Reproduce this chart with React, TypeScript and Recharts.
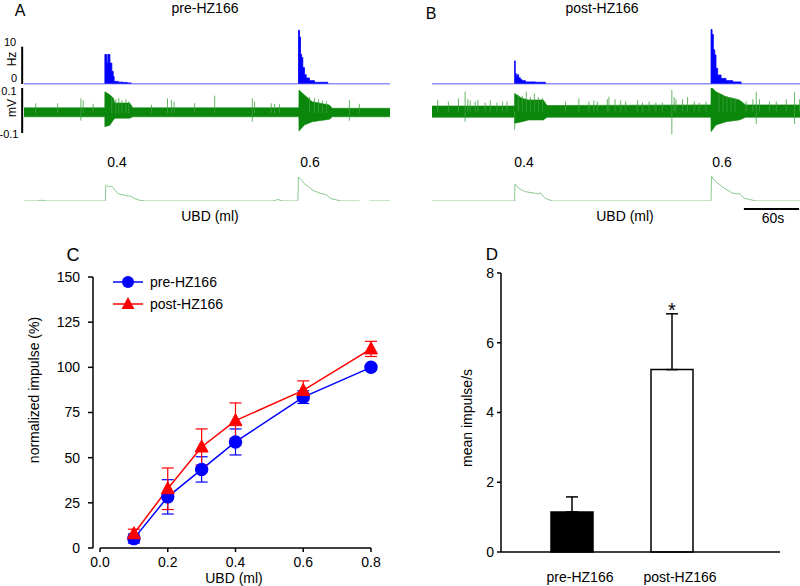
import {
  Area,
  AreaChart,
  Bar,
  BarChart,
  Cell,
  ErrorBar,
  Legend,
  Line,
  LineChart,
  ReferenceDot,
  ReferenceLine,
  XAxis,
  YAxis,
} from "recharts";

const FONT = "'Liberation Sans', Arial, Helvetica, sans-serif";
const BLUE = "#0000ff";
const RED = "#ff0000";
const GREEN = "#0b870b";
const SPIKE = "#3f9f3f";
const PRESS = "#8dc98d";

// ---- panels A / B: 400 s recordings (time in s) ----
// firing-rate histogram (Hz)
const HIST_A_T = [0, 88.4, 90.6, 91.7, 93.9, 96, 97.5, 98.5, 103, 108, 113, 117, 300, 301.1, 302.2, 303.3, 304.7, 306.5, 308.4, 312, 317.5, 332, 400];
const HIST_A_HZ = [0, 7.9, 5.6, 7.9, 5.6, 3.4, 2.0, 0.7, 0.5, 0.4, 0.3, 0, 14.4, 12.6, 8.0, 7.1, 4.4, 2.5, 1.6, 0.9, 0.45, 0, 0];
const HIST_B_T = [0, 89.8, 90.5, 91.6, 92.7, 94.2, 96, 97.8, 101.5, 112.4, 123.3, 303.3, 304.4, 305.8, 307.3, 308.7, 310.5, 314.2, 319.6, 326.9, 336, 400];
const HIST_B_HZ = [0, 6.2, 2.8, 2.1, 2.5, 1.7, 1.2, 0.9, 0.55, 0.45, 0, 14.6, 13.3, 9.2, 7.8, 4.2, 2.4, 1.5, 0.9, 0.55, 0, 0];

// raw nerve signal envelope (mV)
const ENV_A_T = [0, 88.3, 88.4, 93.8, 97.5, 99.3, 115.6, 118.9, 300.4, 300.5, 306.5, 315, 333.8, 337, 400];
const ENV_A_LO = [-0.028, -0.028, -0.072, -0.065, -0.043, -0.034, -0.034, -0.028, -0.028, -0.091, -0.064, -0.05, -0.039, -0.028, -0.028];
const ENV_A_HI = [0.012, 0.012, 0.083, 0.07, 0.056, 0.033, 0.033, 0.012, 0.012, 0.091, 0.069, 0.039, 0.024, 0.01, 0.01];
const ENV_B_T = [0, 89.7, 89.8, 97.8, 105, 121, 125, 303.2, 303.3, 308.7, 319.6, 334, 341, 400];
const ENV_B_LO = [-0.03, -0.03, -0.057, -0.05, -0.042, -0.042, -0.03, -0.03, -0.094, -0.064, -0.05, -0.042, -0.03, -0.03];
const ENV_B_HI = [0.02, 0.02, 0.076, 0.054, 0.047, 0.047, 0.022, 0.025, 0.106, 0.083, 0.061, 0.047, 0.025, 0.025];
const MID_A = -0.012;
const MID_B = -0.005;

// single spikes sticking out of the band (time, tip in mV)
const SPK_A_T = [12.8, 36.8, 62.2, 64.7, 75.6, 96, 100.4, 103.6, 106.9, 111.3, 114.5, 139.3, 156.8, 161.1, 164, 186.5, 208.4, 249.5, 252, 270.2, 273.8, 279.3, 312, 317.5, 321.8, 326.2, 330.5, 355.6, 366.5];
const SPK_A_MV = [0.032, 0.032, 0.054, 0.045, 0.03, 0.06, 0.05, 0.055, 0.045, 0.05, 0.04, 0.025, 0.054, 0.047, 0.04, 0.032, 0.066, 0.054, 0.04, 0.032, 0.03, 0.028, 0.06, 0.055, 0.05, 0.045, 0.04, 0.047, 0.03];
const DIP_A_T = [62.2, 249.5, 355.6];
const DIP_A_MV = [-0.045, -0.05, -0.045];
const SPK_B_T = [6.2, 17.8, 28.7, 36, 38.9, 41.5, 46.9, 49.9, 57.8, 63.3, 70.6, 76.7, 81.5, 93.8, 98.2, 102.5, 106.9, 111.3, 115.6, 120, 145.1, 159.6, 170.5, 176, 179.7, 190.6, 192.3, 198.9, 205.1, 210.5, 223.3, 228.8, 236, 243.3, 250.6, 260.7, 263.2, 265.1, 272.4, 277.8, 285.1, 290.5, 297.8, 312, 316.4, 320.7, 325.1, 329.5, 341.5, 348.8, 352.4, 356, 366.9, 374.2, 385.1, 394.1, 399.6];
const SPK_B_MV = [0.047, 0.04, 0.054, 0.084, 0.05, 0.045, 0.04, 0.047, 0.035, 0.045, 0.035, 0.04, 0.04, 0.07, 0.065, 0.084, 0.06, 0.075, 0.06, 0.055, 0.04, 0.054, 0.04, 0.045, 0.04, 0.05, 0.061, 0.05, 0.045, 0.04, 0.045, 0.035, 0.04, 0.035, 0.035, 0.091, 0.06, 0.05, 0.05, 0.06, 0.04, 0.035, 0.04, 0.075, 0.07, 0.065, 0.06, 0.055, 0.04, 0.05, 0.083, 0.05, 0.04, 0.04, 0.05, 0.083, 0.05];
const DIP_B_T = [36, 89.8, 260.7, 352.4, 394.1];
const DIP_B_MV = [-0.05, -0.085, -0.105, -0.06, -0.06];

// bladder pressure trace (arbitrary units), null = gap in recording
const PRESS_A_T = [0, 15, 19, 24, 89.1, 89.3, 90.2, 92.7, 95.6, 102.9, 110.2, 113.8, 115.6, 121.1, 126.5, 132, 272, 277.5, 283, 299.3, 300, 302.9, 306.5, 315.6, 324.7, 329.1, 330.9, 335.6, 346.5, 366.5, 367, 377, 377.5, 400];
const PRESS_A_V = [0, 0, 0.8, 0, 0, 15.7, 15.7, 14, 15, 7.3, 5.7, 4.7, 5.3, 2.3, 0.7, 0, 0, 1.5, 0, 0, 24, 21.3, 17.3, 10.7, 7.3, 6.7, 5.7, 2.3, 0, 0, null, null, 0, 0];
const PRESS_B_T = [0, 89.8, 90.2, 91.3, 94.2, 101.5, 112.4, 116, 117.8, 119.6, 123.3, 130.6, 303.3, 303.8, 305.8, 308.7, 317.8, 326.9, 332.4, 334.2, 336, 339.6, 352.4, 400];
const PRESS_B_V = [0, 0, 17, 16, 12.7, 9.3, 7.7, 7, 8.3, 6, 2.7, 0, 0, 25, 21.7, 19.3, 12.7, 7.7, 7, 7.7, 5.7, 2.7, 0, 0];

// ---- panel C ----
const UBD = [0.1, 0.2, 0.3, 0.4, 0.6, 0.8];
const PRE = [5.2, 28.3, 43.5, 58.7, 83.5, 100];
const PRE_ERR = [2.5, 9.5, 7, 7.2, 3.5, 0];
const POST = [7.9, 32.8, 55.9, 70.5, 87.2, 110.2];
const POST_ERR = [2.5, 11.5, 10, 9.8, 5.3, 4.2];

// ---- panel D ----
const GROUPS = ["pre-HZ166", "post-HZ166"];
const MEAN = [1.15, 5.23];
const SEM = [0.43, 1.6];
const BAR_FILL = ["#000000", "#ffffff"];

const zip2 = (t: number[], v: (number | null)[], key: string) => t.map((x, i) => ({ t: x, [key]: v[i] }));
const envRows = (t: number[], lo: number[], hi: number[]) => t.map((x, i) => ({ t: x, r: [lo[i], hi[i]] }));
const spikeRows = (t: number[], mv: number[]) => t.map((x, i) => ({ t: x, tip: mv[i] }));

type TraceProps = {
  left: number;
  padL: number;
  padR: number;
  hist: any[];
  env: any[];
  spikes: { t: number; tip: number }[];
  mid: number;
  press: any[];
  axes?: boolean;
  scaleBar?: boolean;
};

function Trace({ left, padL, padR, hist, env, spikes, mid, press, axes, scaleBar }: TraceProps) {
  const xAxis = <XAxis dataKey="t" type="number" domain={[0, 400]} hide />;
  return (
    <>
      <div style={{ position: "absolute", left, top: 0 }}>
        <AreaChart width={400} height={90} data={hist} margin={{ top: 28, bottom: 6, left: padL, right: padR }}>
          {xAxis}
          <YAxis domain={[0, 15]} hide allowDataOverflow />
          <ReferenceLine y={0} stroke="#7a7aff" strokeWidth={0.8} />
          <Area type="stepAfter" dataKey="hz" stroke={BLUE} strokeWidth={0.8} fill={BLUE} fillOpacity={1} isAnimationActive={false} />
          {axes && (
            <ReferenceLine segment={[{ x: -2, y: 0 }, { x: -2, y: 10 }]} stroke="#000" strokeWidth={2} ifOverflow="visible" />
          )}
        </AreaChart>
      </div>
      <div style={{ position: "absolute", left, top: 0 }}>
        <AreaChart width={400} height={140} data={env} margin={{ top: 88, bottom: 7, left: padL, right: padR }}>
          {xAxis}
          <YAxis domain={[-0.1, 0.1]} hide allowDataOverflow />
          {spikes.map((s, i) => (
            <ReferenceLine key={i} segment={[{ x: s.t, y: mid }, { x: s.t, y: s.tip }]} stroke={SPIKE} strokeWidth={0.8} ifOverflow="visible" />
          ))}
          <Area type="linear" dataKey="r" stroke={GREEN} strokeWidth={0.6} fill={GREEN} fillOpacity={1} isAnimationActive={false} />
          {axes && (
            <ReferenceLine segment={[{ x: -2, y: -0.1 }, { x: -2, y: 0.1 }]} stroke="#000" strokeWidth={2} ifOverflow="visible" />
          )}
        </AreaChart>
      </div>
      <div style={{ position: "absolute", left, top: 160 }}>
        <LineChart width={400} height={60} data={press} margin={{ top: 11, bottom: 19, left: padL, right: padR }}>
          {xAxis}
          <YAxis domain={[0, 30]} hide allowDataOverflow />
          <Line type="linear" dataKey="v" stroke={PRESS} strokeWidth={1} dot={false} isAnimationActive={false} />
          {scaleBar && (
            <ReferenceLine segment={[{ x: 339, y: -8 }, { x: 399, y: -8 }]} stroke="#000" strokeWidth={2} ifOverflow="visible" />
          )}
        </LineChart>
      </div>
    </>
  );
}

function Txt({ x, y, size = 14, rot, children }: { x: number; y: number; size?: number; rot?: boolean; children: any }) {
  return (
    <div
      style={{
        position: "absolute",
        left: x,
        top: y,
        fontSize: size,
        lineHeight: 1,
        whiteSpace: "nowrap",
        color: "#000",
        transform: `translate(-50%, -50%)${rot ? " rotate(-90deg)" : ""}`,
      }}
    >
      {children}
    </div>
  );
}

const Tri = (p: any) => {
  const { cx, cy } = p;
  if (cx == null || cy == null) return <g />;
  return <polygon points={`${cx},${cy - 7} ${cx - 6.5},${cy + 5} ${cx + 6.5},${cy + 5}`} fill={RED} stroke={RED} />;
};

const LegendC = () => (
  <svg width={170} height={44} style={{ fontFamily: FONT }}>
    <line x1={3} y1={9} x2={33} y2={9} stroke={BLUE} strokeWidth={1.5} />
    <circle cx={18} cy={9} r={6} fill={BLUE} />
    <text x={40} y={14} fontSize={14} fill="#000">pre-HZ166</text>
    <line x1={3} y1={31} x2={33} y2={31} stroke={RED} strokeWidth={1.5} />
    <polygon points="18,24 11.5,36 24.5,36" fill={RED} />
    <text x={40} y={36} fontSize={14} fill="#000">post-HZ166</text>
  </svg>
);

export default function App() {
  const histA = zip2(HIST_A_T, HIST_A_HZ, "hz");
  const histB = zip2(HIST_B_T, HIST_B_HZ, "hz");
  const envA = envRows(ENV_A_T, ENV_A_LO, ENV_A_HI);
  const envB = envRows(ENV_B_T, ENV_B_LO, ENV_B_HI);
  const spkA = [...spikeRows(SPK_A_T, SPK_A_MV), ...spikeRows(DIP_A_T, DIP_A_MV)];
  const spkB = [...spikeRows(SPK_B_T, SPK_B_MV), ...spikeRows(DIP_B_T, DIP_B_MV)];
  const pressA = zip2(PRESS_A_T, PRESS_A_V, "v");
  const pressB = zip2(PRESS_B_T, PRESS_B_V, "v");

  const rowsC = UBD.map((u, i) => ({ ubd: u, pre: PRE[i], preErr: PRE_ERR[i], post: POST[i], postErr: POST_ERR[i] }));
  const rowsD = GROUPS.map((g, i) => ({ g, mean: MEAN[i], err: [0, SEM[i]] }));

  const axisStyle = { stroke: "#000", strokeWidth: 1.5 };
  const tickStyle = { fill: "#000", fontSize: 14 };

  return (
    <div
      style={{
        position: "absolute",
        left: 0,
        top: 0,
        width: 800,
        height: 586,
        background: "#fff",
        overflow: "hidden",
        fontFamily: FONT,
      }}
    >
      <Trace left={0} padL={24} padR={10} hist={histA} env={envA} spikes={spkA} mid={MID_A} press={pressA} axes />
      <Trace left={400} padL={32} padR={0} hist={histB} env={envB} spikes={spkB} mid={MID_B} press={pressB} scaleBar />

      {/* panel C */}
      <div style={{ position: "absolute", left: 0, top: 260 }}>
        <LineChart width={400} height={326} data={rowsC} margin={{ top: 17, right: 29, bottom: 8, left: 0 }}>
          <XAxis
            dataKey="ubd"
            type="number"
            domain={[0, 0.8]}
            ticks={[0, 0.2, 0.4, 0.6, 0.8]}
            tickFormatter={(v: number) => v.toFixed(1)}
            padding={{ left: 7 }}
            axisLine={false}
            tickLine={axisStyle}
            tickSize={4}
            tickMargin={5}
            height={30}
            tick={tickStyle}
          />
          <YAxis
            type="number"
            domain={[0, 150]}
            ticks={[0, 25, 50, 75, 100, 125, 150]}
            width={93}
            axisLine={axisStyle}
            tickLine={axisStyle}
            tickSize={5}
            tickMargin={8}
            tick={tickStyle}
          />
          <ReferenceLine segment={[{ x: 0, y: 0 }, { x: 0.8, y: 0 }]} stroke="#000" strokeWidth={1.5} ifOverflow="visible" />
          <Line dataKey="pre" stroke={BLUE} strokeWidth={1.5} dot={{ r: 6, fill: BLUE, stroke: BLUE }} isAnimationActive={false}>
            <ErrorBar dataKey="preErr" direction="y" width={6} stroke={BLUE} strokeWidth={1.2} />
          </Line>
          <Line dataKey="post" stroke={RED} strokeWidth={1.5} dot={Tri} isAnimationActive={false}>
            <ErrorBar dataKey="postErr" direction="y" width={6} stroke={RED} strokeWidth={1.2} />
          </Line>
          <Legend layout="horizontal" verticalAlign="middle" align="center" wrapperStyle={{ left: 110, top: 13, width: 170 }} content={LegendC} />
        </LineChart>
      </div>

      {/* panel D */}
      <div style={{ position: "absolute", left: 400, top: 260 }}>
        <BarChart width={400} height={326} data={rowsD} margin={{ top: 13, right: 20, bottom: 4, left: 0 }}>
          <XAxis
            dataKey="g"
            padding={{ left: 21, right: 58 }}
            axisLine={axisStyle}
            tickLine={false}
            tickSize={0}
            tickMargin={20}
            height={30}
            tick={{ ...tickStyle, dx: 8 }}
          />
          <YAxis
            type="number"
            domain={[0, 8]}
            ticks={[0, 2, 4, 6, 8]}
            width={101}
            axisLine={axisStyle}
            tickLine={axisStyle}
            tickSize={4}
            tickMargin={3}
            tick={tickStyle}
          />
          <Bar dataKey="mean" barSize={42} stroke="#000" strokeWidth={1.5} isAnimationActive={false}>
            {rowsD.map((r, i) => (
              <Cell key={r.g} fill={BAR_FILL[i]} />
            ))}
            <ErrorBar dataKey="err" direction="y" width={6} stroke="#000" strokeWidth={1.5} />
          </Bar>
          <ReferenceDot
            x="post-HZ166"
            y={MEAN[1] + SEM[1]}
            r={0}
            label={{ value: "*", position: "top", offset: -3, fontSize: 20, fill: "#000" }}
          />
        </BarChart>
      </div>

      {/* text: panels A/B */}
      <Txt x={20} y={11} size={16}>A</Txt>
      <Txt x={205} y={8}>pre-HZ166</Txt>
      <Txt x={10} y={42} size={11}>10</Txt>
      <Txt x={14} y={78} size={11}>0</Txt>
      <Txt x={12} y={59} size={12} rot>Hz</Txt>
      <Txt x={9} y={91} size={11}>0.1</Txt>
      <Txt x={12} y={108} size={12} rot>mV</Txt>
      <Txt x={9} y={134} size={11}>-0.1</Txt>
      <Txt x={117} y={162}>0.4</Txt>
      <Txt x={310} y={162}>0.6</Txt>
      <Txt x={210} y={216}>UBD (ml)</Txt>

      <Txt x={431} y={14} size={16}>B</Txt>
      <Txt x={602} y={8}>post-HZ166</Txt>
      <Txt x={524} y={162}>0.4</Txt>
      <Txt x={722} y={162}>0.6</Txt>
      <Txt x={625} y={216}>UBD (ml)</Txt>
      <Txt x={773} y={218}>60s</Txt>

      {/* text: panels C/D */}
      <Txt x={73} y={255} size={18}>C</Txt>
      <Txt x={34} y={390} rot>normalized impulse (%)</Txt>
      <Txt x={234} y={578}>UBD (ml)</Txt>
      <Txt x={492} y={254} size={17}>D</Txt>
      <Txt x={467} y={418} rot>mean impulse/s</Txt>
    </div>
  );
}
